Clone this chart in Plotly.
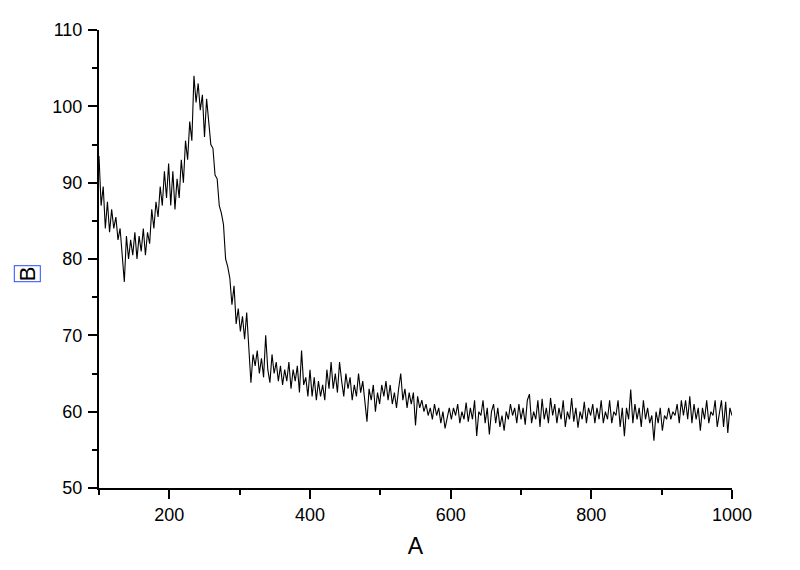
import plotly.graph_objects as go

x_vals = list(range(100, 1001, 3))

y_vals = [
    93.5, 87, 89.5, 84, 87.5, 83.5, 86.5, 84, 85.5, 82.5,
    84, 80.5, 77, 83, 80, 82.5, 80.5, 83.5, 80, 83,
    81, 84, 80.5, 83.5, 82, 86.5, 84, 87.5, 85.5, 89.5,
    87, 91.5, 88, 92.5, 87, 91.5, 86.5, 90.5, 88, 93,
    90, 95.5, 93, 98, 95.5, 104, 100.5, 103, 99.5, 101.5,
    96, 101, 97.5, 95, 94.5, 91, 90.5, 87, 86, 84.5,
    80, 79, 77.5, 74, 76.5, 71.5, 73.5, 70.5, 72.5, 69.5,
    73, 68, 63.8, 67.5, 66, 68, 65, 67, 64.5, 70,
    65.5, 63.8, 67.5, 65, 66.5, 64, 66, 63.5, 65.5, 64,
    66.5, 63, 65.5, 64, 66, 62.5, 68, 63.5, 64.5, 62,
    65.5, 62, 64.5, 61.5, 64, 62, 63.5, 61.5, 65.5, 63,
    66.5, 63, 65, 62.5, 66.5, 64, 62, 65, 63, 64.5,
    61.5, 63.5, 62, 65, 62.5, 64, 61, 58.7, 63, 61.5,
    63.5, 60, 62.5, 61, 63.5, 62, 64, 61.5, 63.5, 61,
    62.5, 60.5, 63, 65, 61.5, 63, 60.5, 62.5, 61, 62.5,
    58.2, 62, 60.5, 61.5, 60, 61, 59.5, 60.5, 59, 61,
    59.5, 60.5, 58.5, 60, 57.8, 59, 60.5, 59, 60.5, 59.5,
    61, 58.5, 60, 59, 61.2, 58.7, 60.5, 59, 61.5, 56.8,
    60, 59.5, 61.5, 58.5, 60.5, 57, 60, 61, 58.5, 60.5,
    58, 59.5, 57.5, 60, 59, 61, 59.5, 60.5, 58.5, 61,
    59, 60.5, 58.3, 61.5, 62.3, 58.5, 60, 59, 61.5, 58,
    61.7, 59, 60.5, 58.5, 61.8, 59.5, 61, 58.5, 60.5, 59,
    61.5, 58, 60, 59, 61.8, 58.7, 60.5, 57.9, 60, 59,
    61.3, 58.5, 60.5, 59.5, 61, 58.5, 60.5, 59, 61.5, 58.5,
    60, 59, 61.5, 58.5, 60, 59.5, 61.5, 58, 60.5, 56.8,
    60.5, 59, 62.9, 58.5, 61, 59, 60.5, 58, 61.5, 59,
    60.5, 58.5, 59.5, 56.2, 60, 58.5, 60.5, 57.5, 59.5, 59,
    60.5, 59, 60, 59.5, 61, 58.5, 61.5, 59.5, 61.5, 59,
    62, 58.5, 61, 59, 60.5, 57.5, 60.5, 59, 61.5, 58.5,
    60, 59.5, 61.5, 58, 60, 61.5, 58, 61.3, 57.2, 60.5,
    59.5,
]

x_major = [200, 400, 600, 800, 1000]
x_minor = [100, 300, 500, 700, 900]
x_title = "A"
y_title = "B"

fig = go.Figure()
fig.add_trace(go.Scatter(
    x=x_vals, y=y_vals, mode="lines",
    line=dict(color="black", width=1.1),
    showlegend=False,
))

font_family = "Liberation Sans, Arial, sans-serif"

fig.update_layout(
    width=800, height=570,
    margin=dict(l=91, r=76, t=13, b=90),
    paper_bgcolor="white", plot_bgcolor="white",
    font=dict(family=font_family, color="black", size=18),
    xaxis=dict(
        range=[100, 1000], showgrid=False, zeroline=False,
        showline=True, linecolor="black", linewidth=2,
        ticks="outside", ticklen=9, tickwidth=1.5, tickcolor="black",
        tickvals=x_major,
        minor=dict(tickvals=x_minor, ticks="outside", ticklen=5, tickwidth=1.5, tickcolor="black"),
        tickfont=dict(size=18),
        title=dict(text=x_title, font=dict(size=23), standoff=14),
    ),
    yaxis=dict(
        range=[50, 110], showgrid=False, zeroline=False,
        showline=True, linecolor="black", linewidth=2,
        ticks="outside", ticklen=9, tickwidth=1.5, tickcolor="black",
        dtick=10, tick0=50,
        minor=dict(dtick=5, ticks="outside", ticklen=5, tickwidth=1.5, tickcolor="black"),
        tickfont=dict(size=18),
        ticklabelstandoff=2,
    ),
    annotations=[dict(
        text=y_title, xref="paper", yref="paper",
        x=(19 - 91) / 633, y=(480 - 262) / 467,
        showarrow=False, textangle=-90,
        font=dict(size=22, family=font_family),
        bordercolor="#2a4bff", borderwidth=1, borderpad=0,
        xanchor="center", yanchor="middle",
    )],
)

fig.write_html("out.html")
